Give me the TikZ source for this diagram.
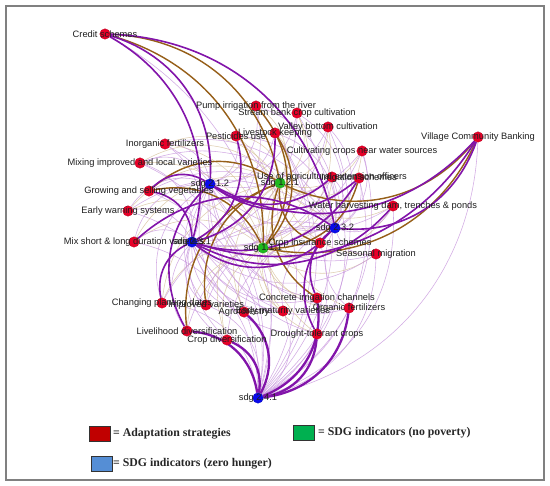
\documentclass[tikz,border=0pt]{standalone}
\usepackage{fontspec}
\setmainfont{Liberation Sans}
\newfontfamily\legfont{Liberation Serif}
\pgfdeclarelayer{bglayer}
\pgfdeclarelayer{edgelayer}
\pgfsetlayers{bglayer,edgelayer,main}
\definecolor{nred}{RGB}{232,0,40}
\definecolor{nblue}{RGB}{10,10,235}
\definecolor{ngreen}{RGB}{30,185,30}
\definecolor{epurple}{RGB}{130,20,170}
\definecolor{ebrown}{RGB}{150,95,25}
\definecolor{lpurple}{RGB}{200,150,222}
\definecolor{ltan}{RGB}{212,190,150}
\definecolor{legred}{RGB}{192,0,0}
\definecolor{leggreen}{RGB}{0,176,80}
\definecolor{legblue}{RGB}{85,142,213}
\tikzset{
  dotnode/.style={circle,minimum size=10.5pt,inner sep=0pt,draw=#1!80!black,line width=0.3pt,fill=#1},
  adapt/.style={dotnode=nred},
  sdgb/.style={dotnode=nblue},
  sdgg/.style={dotnode=ngreen},
  lab/.style={font=\fontsize{9.3}{10}\selectfont,text=black!88,inner sep=0pt},
  thinp/.style={draw=lpurple,line width=0.55pt,opacity=0.8},
  thint/.style={draw=ltan,line width=0.55pt,opacity=0.75},
  thickp/.style={draw=epurple,line width=1.6pt},
  heavyp/.style={draw=epurple,line width=2.3pt},
  thickb/.style={draw=ebrown,line width=1.4pt},
  legbox/.style={draw=black!80,line width=0.6pt,minimum width=21pt,minimum height=15pt,inner sep=0pt},
  legtext/.style={font=\legfont\bfseries\fontsize{11.8}{13}\selectfont,text=black!85,anchor=west,inner sep=0pt},
  eb/.style={bend left=38}
}
\begin{document}
\begin{tikzpicture}[x=1pt,y=-1pt]
\useasboundingbox (0,0) rectangle (550,486);
\begin{pgfonlayer}{bglayer}
\fill[white] (0,0) rectangle (550,486);
\end{pgfonlayer}
\draw[gray,line width=1.3pt] (6,6) rectangle (544,480);
% adaptation strategies
\node[adapt] (cs) at (105,34) {};
\node[adapt] (pir) at (256,106) {};
\node[adapt] (sb) at (297,113) {};
\node[adapt] (vb) at (328,127) {};
\node[adapt] (lk) at (275,133) {};
\node[adapt] (pu) at (236,136) {};
\node[adapt] (inf) at (165,144) {};
\node[adapt] (cc) at (362,151) {};
\node[adapt] (mi) at (140,163) {};
\node[adapt] (vcb) at (478,137) {};
\node[adapt] (gv) at (149,191) {};
\node[adapt] (ue) at (332,177) {};
\node[adapt] (is) at (359,178) {};
\node[adapt] (ew) at (128,211) {};
\node[adapt] (wh) at (393,206) {};
\node[adapt] (ms) at (134,242) {};
\node[adapt] (ci) at (320,243) {};
\node[adapt] (sm) at (376,254) {};
\node[adapt] (cic) at (317,298) {};
\node[adapt] (of) at (349,308) {};
\node[adapt] (em) at (283,311) {};
\node[adapt] (cp) at (162,303) {};
\node[adapt] (iv) at (206,305) {};
\node[adapt] (af) at (244,312) {};
\node[adapt] (ld) at (187,331) {};
\node[adapt] (cd) at (227,340) {};
\node[adapt] (dt) at (317,334) {};
% SDG indicators
\node[sdgb] (s212) at (210,184) {};
\node[sdgb] (s231) at (192,242) {};
\node[sdgb] (s232) at (335,228) {};
\node[sdgb] (s241) at (258,398) {};
\node[sdgg] (s121) at (280,183) {};
\node[sdgg] (s111) at (263,248) {};
% edges
\begin{pgfonlayer}{edgelayer}
\foreach \a in {cs,pir,sb,vb,lk,pu,inf,cc,mi,vcb,gv,ue,is,ew,wh,ms,ci,sm,cic,of,em,cp,iv,af,ld,cd,dt}{
  \foreach \s in {s121,s111}{\draw[thint] (\a) to[eb] (\s);}
  \foreach \s in {s212,s231,s232,s241}{\draw[thinp] (\a) to[eb] (\s);}
}
\foreach \a/\s in {cs/s121,cs/s111,vcb/s121,vcb/s111,lk/s111,pir/s111,cic/s121,ci/s121,gv/s111,iv/s121,ld/s121,is/s111,gv/s121}
  {\draw[thickb] (\a) to[eb] (\s);}
\foreach \a/\s in {cs/s212,cs/s231,cs/s232,vcb/s212,vcb/s231,vcb/s232,gv/s212,gv/s231,ld/s212,dt/s232,cic/s232,is/s212,is/s231,wh/s231,ci/s231,lk/s231,cp/s231,pu/s231,ue/s212,ms/s232}
  {\draw[thickp] (\a) to[eb] (\s);}
\foreach \a/\s in {ld/s241,cd/s241,af/s241,dt/s241,of/s241,cic/s241}
  {\draw[heavyp] (\a) to[eb] (\s);}
\end{pgfonlayer}
% labels
\node[lab] (cs-t) at (cs) {Credit schemes};
\node[lab] (pir-t) at (pir) {Pump irrigation from the river};
\node[lab] (sb-t) at (sb) {Stream bank crop cultivation};
\node[lab] (vb-t) at (vb) {Valley bottom cultivation};
\node[lab] (lk-t) at (lk) {Livestock keeping};
\node[lab] (pu-t) at (pu) {Pesticides use};
\node[lab] (inf-t) at (inf) {Inorganic fertilizers};
\node[lab] (cc-t) at (cc) {Cultivating crops near water sources};
\node[lab] (mi-t) at (mi) {Mixing improved and local varieties};
\node[lab] (vcb-t) at (vcb) {Village Community Banking};
\node[lab] (gv-t) at (gv) {Growing and selling vegetables};
\node[lab] (ue-t) at (ue) {Use of agricultural extension officers};
\node[lab] (is-t) at (is) {Irrigation schemes};
\node[lab] (ew-t) at (ew) {Early warning systems};
\node[lab] (wh-t) at (wh) {Water harvesting dam, trenches \& ponds};
\node[lab] (ms-t) at (ms) {Mix short \& long duration varieties};
\node[lab] (ci-t) at (ci) {Crop insurance schemes};
\node[lab] (sm-t) at (sm) {Seasonal migration};
\node[lab] (cic-t) at (cic) {Concrete irrigation channels};
\node[lab] (of-t) at (of) {Organic fertilizers};
\node[lab] (em-t) at (em) {Early maturity varieties};
\node[lab] (cp-t) at (cp) {Changing planting dates};
\node[lab] (iv-t) at (iv) {Improved varieties};
\node[lab] (af-t) at (af) {Agroforestry};
\node[lab] (ld-t) at (ld) {Livelihood diversification};
\node[lab] (cd-t) at (cd) {Crop diversification};
\node[lab] (dt-t) at (dt) {Drought-tolerant crops};
\node[lab] (s212-t) at (s212) {sdg 2.1.2};
\node[lab] (s231-t) at (s231) {sdg 2.3.1};
\node[lab] (s232-t) at (s232) {sdg 2.3.2};
\node[lab] (s241-t) at (s241) {sdg 2.4.1};
\node[lab] (s121-t) at (s121) {sdg 1.2.1};
\node[lab] (s111-t) at (s111) {sdg 1.1.1};
% legend
\node[legbox,fill=legred] (lr) at (100,433.5) {};
\node[legtext] (lr-t) at (113,433.5) {= Adaptation strategies};
\node[legbox,fill=leggreen] (lg) at (304,433) {};
\node[legtext] (lg-t) at (318,433) {= SDG indicators (no poverty)};
\node[legbox,fill=legblue] (lb) at (101.5,464) {};
\node[legtext] (lb-t) at (113,464) {= SDG indicators (zero hunger)};
\end{tikzpicture}
\end{document}
